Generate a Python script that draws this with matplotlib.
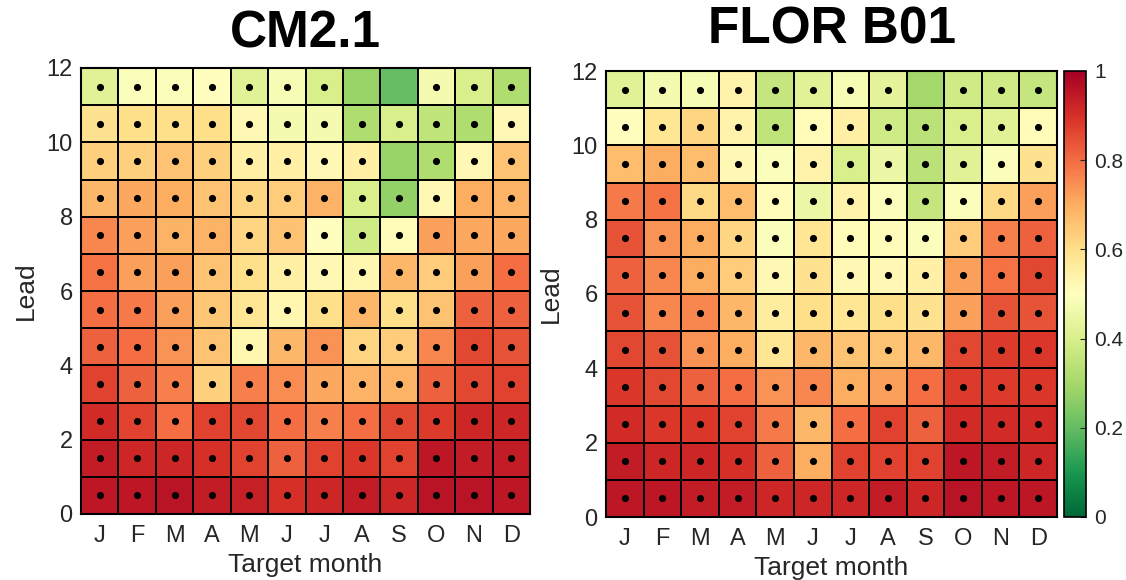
import numpy as np
import matplotlib
matplotlib.use("Agg")
import matplotlib.pyplot as plt

plt.rcParams["font.family"] = ["Liberation Sans", "DejaVu Sans"]

months = ["J", "F", "M", "A", "M", "J", "J", "A", "S", "O", "N", "D"]
leads = np.arange(12)

# rows: lead 0 (bottom) .. lead 11 (top); columns: target month J..D
cm21 = [
    [0.95, 0.95, 0.96, 0.94, 0.93, 0.90, 0.92, 0.94, 0.92, 0.96, 0.96, 0.95],
    [0.94, 0.92, 0.92, 0.90, 0.87, 0.82, 0.87, 0.89, 0.87, 0.95, 0.94, 0.94],
    [0.91, 0.87, 0.80, 0.87, 0.86, 0.80, 0.77, 0.80, 0.86, 0.88, 0.92, 0.92],
    [0.87, 0.82, 0.77, 0.63, 0.77, 0.75, 0.71, 0.69, 0.69, 0.82, 0.86, 0.87],
    [0.82, 0.80, 0.74, 0.66, 0.53, 0.68, 0.74, 0.62, 0.64, 0.76, 0.86, 0.84],
    [0.80, 0.78, 0.72, 0.65, 0.58, 0.53, 0.60, 0.68, 0.60, 0.66, 0.82, 0.82],
    [0.79, 0.72, 0.72, 0.66, 0.60, 0.55, 0.52, 0.53, 0.68, 0.64, 0.72, 0.80],
    [0.76, 0.72, 0.69, 0.69, 0.62, 0.66, 0.50, 0.38, 0.51, 0.72, 0.71, 0.71],
    [0.68, 0.71, 0.70, 0.66, 0.62, 0.64, 0.69, 0.40, 0.27, 0.52, 0.70, 0.69],
    [0.63, 0.63, 0.66, 0.63, 0.55, 0.55, 0.52, 0.55, 0.28, 0.32, 0.52, 0.66],
    [0.59, 0.60, 0.60, 0.60, 0.52, 0.47, 0.47, 0.32, 0.40, 0.35, 0.32, 0.52],
    [0.42, 0.49, 0.49, 0.50, 0.42, 0.48, 0.40, 0.28, 0.20, 0.47, 0.40, 0.32],
]

flor = [
    [0.95, 0.95, 0.94, 0.94, 0.92, 0.92, 0.92, 0.94, 0.92, 0.96, 0.95, 0.95],
    [0.94, 0.92, 0.92, 0.90, 0.82, 0.70, 0.87, 0.87, 0.87, 0.95, 0.94, 0.92],
    [0.91, 0.89, 0.89, 0.87, 0.78, 0.68, 0.80, 0.87, 0.82, 0.91, 0.91, 0.91],
    [0.89, 0.86, 0.82, 0.80, 0.74, 0.76, 0.70, 0.72, 0.80, 0.88, 0.88, 0.89],
    [0.86, 0.84, 0.74, 0.70, 0.58, 0.68, 0.66, 0.66, 0.68, 0.86, 0.88, 0.89],
    [0.84, 0.76, 0.76, 0.68, 0.56, 0.60, 0.58, 0.60, 0.59, 0.72, 0.84, 0.84],
    [0.82, 0.76, 0.70, 0.64, 0.52, 0.59, 0.52, 0.52, 0.55, 0.72, 0.79, 0.86],
    [0.84, 0.74, 0.70, 0.62, 0.49, 0.58, 0.51, 0.51, 0.49, 0.64, 0.77, 0.82],
    [0.78, 0.79, 0.61, 0.67, 0.51, 0.45, 0.54, 0.49, 0.36, 0.49, 0.61, 0.72],
    [0.67, 0.70, 0.67, 0.52, 0.49, 0.54, 0.40, 0.45, 0.34, 0.42, 0.49, 0.59],
    [0.50, 0.58, 0.62, 0.54, 0.35, 0.51, 0.55, 0.38, 0.34, 0.40, 0.42, 0.51],
    [0.42, 0.47, 0.48, 0.54, 0.36, 0.42, 0.48, 0.43, 0.30, 0.38, 0.38, 0.36],
]

# cells without a significance dot: (lead, month index)
cm21_nosig = [(11, 7), (11, 8), (9, 8)]
flor_nosig = [(11, 8)]

panels = [
    ("CM2.1", cm21, cm21_nosig, [81, 68, 530, 514], 48),
    ("FLOR B01", flor, flor_nosig, [606, 71, 1057, 517], 43),
]

W, H = 1126, 580
fig = plt.figure(figsize=(W / 100, H / 100), dpi=100)
cmap = plt.get_cmap("RdYlGn_r")
label_col = "#262626"

for title, vals, nosig, box, base_y in panels:
    x0, y0, x1, y1 = box
    ax = fig.add_axes([x0 / W, 1 - y1 / H, (x1 - x0) / W, (y1 - y0) / H])
    data = np.array(vals)
    mesh = ax.pcolormesh(np.arange(13), np.arange(13), data, cmap=cmap,
                         vmin=0, vmax=1, edgecolors="black", linewidth=1.2)

    sig = np.ones_like(data, dtype=bool)
    for lead, m in nosig:
        sig[lead, m] = False
    xx, yy = np.meshgrid(np.arange(12) + 0.5, leads + 0.5)
    ax.scatter(xx[sig], yy[sig], s=17, color="black", zorder=3)

    ax.set_xlim(0, 12)
    ax.set_ylim(0, 12)
    ax.set_xticks(np.arange(12) + 0.5)
    ax.set_xticklabels(months)
    ax.set_yticks(np.arange(0, 13, 2))
    ax.tick_params(axis="both", length=0, labelsize=17, colors=label_col)
    ax.tick_params(axis="x", pad=8)
    ax.tick_params(axis="y", pad=6)
    ax.set_xlabel("Target month", fontsize=19, color=label_col, labelpad=4)
    ax.set_ylabel("Lead", fontsize=19, color=label_col, labelpad=6)
    for sp in ax.spines.values():
        sp.set_linewidth(1.5)

    fig.text((x0 + x1) / 2 / W, 1 - base_y / H, title, ha="center",
             va="baseline", fontsize=37, fontweight="bold")

cax = fig.add_axes([1064 / W, 1 - 517 / H, 22 / W, 446 / H])
cb = fig.colorbar(mesh, cax=cax, ticks=[0, 0.2, 0.4, 0.6, 0.8, 1])
cb.ax.set_yticklabels(["0", "0.2", "0.4", "0.6", "0.8", "1"])
cb.ax.tick_params(direction="in", length=4, labelsize=15, colors=label_col, pad=6)
cb.outline.set_linewidth(1.2)

fig.savefig("out.png", dpi=100)
